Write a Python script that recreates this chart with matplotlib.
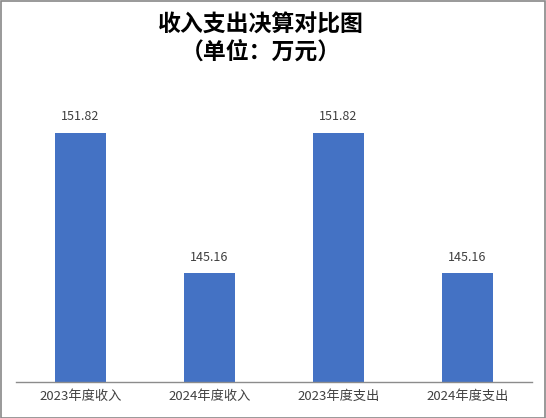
import matplotlib.pyplot as plt
from matplotlib.patches import Rectangle

plt.rcParams['font.family'] = ['Noto Sans CJK SC', 'DejaVu Sans']

categories = ["2023年度收入", "2024年度收入", "2023年度支出", "2024年度支出"]
values = [151.82, 145.16, 151.82, 145.16]

fig = plt.figure(figsize=(5.46, 4.18), dpi=100)
ax = fig.add_axes([0.0293, 0.0861, 0.9451, 0.7058])

x = range(len(categories))
bars = ax.bar(x, values, width=0.4, color="#4472C4", zorder=2)
for b, v in zip(bars, values):
    ax.annotate(f"{v:.2f}", (b.get_x() + b.get_width() / 2, v),
                xytext=(0, 7), textcoords="offset points",
                ha="center", va="bottom", fontsize=9, color="#404040")

ax.set_xlim(-0.5, len(categories) - 0.5)
ax.set_ylim(140, 154)
ax.set_xticks(list(x))
ax.set_xticklabels(categories, fontsize=9.5, color="#404040")
ax.tick_params(axis="x", length=0, pad=6)
ax.set_yticks([])
for s in ["top", "left", "right"]:
    ax.spines[s].set_visible(False)
ax.spines["bottom"].set_color("#8c8c8c")
ax.spines["bottom"].set_linewidth(1.0)

fig.text(261 / 546, 1 - 25 / 418, "收入支出决算对比图", ha="center", va="center",
         fontsize=16.5, fontweight="bold", color="black")
fig.text(261 / 546, 1 - 52 / 418, "（单位：万元）", ha="center", va="center",
         fontsize=16.5, fontweight="bold", color="black")

fig.patches.append(Rectangle((0.001, 0.001), 0.997, 0.997, transform=fig.transFigure,
                             fill=False, edgecolor="#888888", linewidth=1.2))

fig.savefig("out.png", dpi=100)
